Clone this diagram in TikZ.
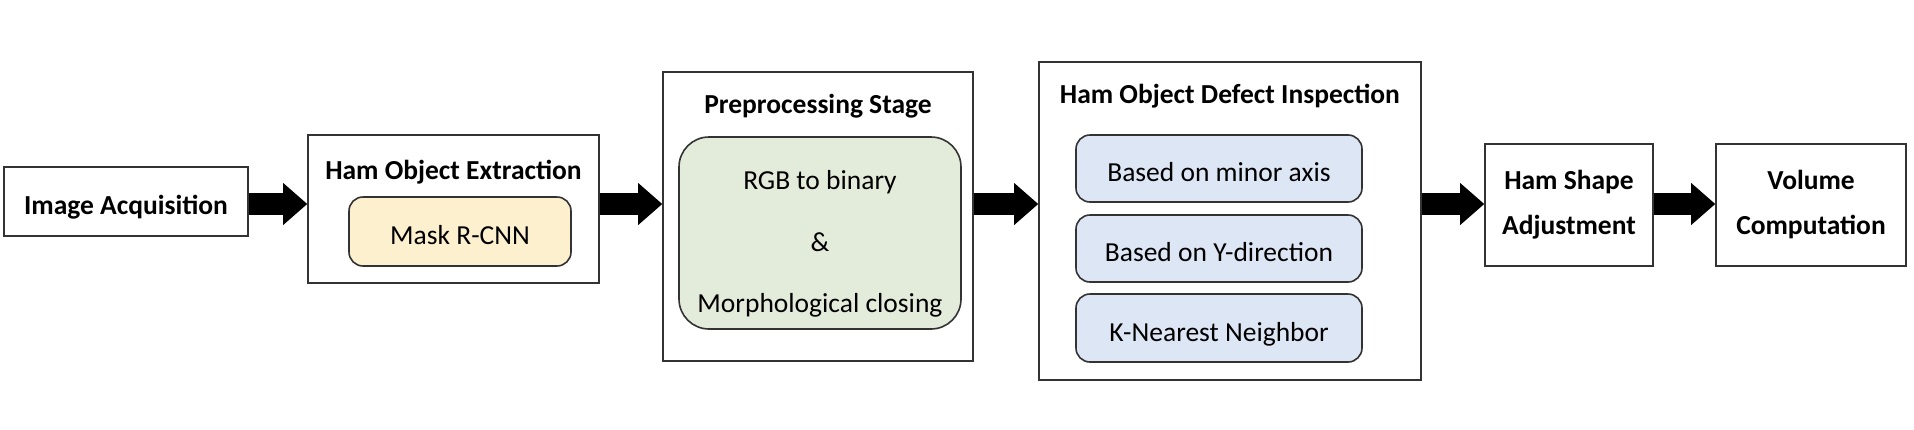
\documentclass[tikz,border=0pt]{standalone}
\usepackage{fontspec}
\setmainfont{Carlito}
\usetikzlibrary{arrows.meta}
\definecolor{maskfill}{HTML}{FDF0CF}
\definecolor{prepfill}{HTML}{E3EBDA}
\definecolor{inspfill}{HTML}{DDE6F4}
\begin{document}
\begin{tikzpicture}[x=1pt, y=-1pt, line width=1.6pt,
    font=\fontsize{27.5}{45}\selectfont,
    box/.style = {draw=black!80, inner sep=0pt},
    one/.style = {text height=32pt, text depth=6pt},
    head/.style = {one, font=\fontsize{27.5}{45}\selectfont\bfseries},
    inner/.style = {box, one, rounded corners=14pt},
    flow/.style = {line width=22pt, -{Triangle[length=24pt, width=42pt, line width=0pt]}}]
    \useasboundingbox (0,0) rectangle (1914,429);

    % simple steps
    \node[box, head, minimum width=244, minimum height=69] (acq) at (126,201.5) {Image Acquisition};
    \node[box, align=center, font=\fontsize{27.5}{45}\selectfont\bfseries, minimum width=168, minimum height=122] (shape) at (1569,205) {Ham Shape\\Adjustment};
    \node[box, align=center, font=\fontsize{27.5}{45}\selectfont\bfseries, minimum width=190, minimum height=122] (vol) at (1811,205) {Volume\\Computation};

    % stage containers
    \node[box, minimum width=291, minimum height=148] (extr) at (453.5,209) {};
    \node[box, minimum width=310, minimum height=289] (prep) at (818,216.5) {};
    \node[box, minimum width=382, minimum height=318] (insp) at (1230,221) {};

    \node[head] (extrT) at (453.5,166) {Ham Object Extraction};
    \node[head] (prepT) at (818,100) {Preprocessing Stage};
    \node[head] (inspT) at (1230,90) {Ham Object Defect Inspection};

    % inner methods
    \node[inner, fill=maskfill, minimum width=222, minimum height=69] (mask) at (460,231.5) {Mask R-CNN};
    \node[box, fill=prepfill, rounded corners=30pt, minimum width=282, minimum height=192] (bin) at (820,233) {};
    \node[align=center] (binT) at (820,244) {RGB to binary\\[16.5pt]\&\\[16.5pt]Morphological closing};
    \node[inner, fill=inspfill, minimum width=286, minimum height=67] (minor) at (1219,168.5) {Based on minor axis};
    \node[inner, fill=inspfill, minimum width=286, minimum height=67] (ydir) at (1219,248.5) {Based on Y-direction};
    \node[inner, fill=inspfill, minimum width=286, minimum height=68] (knn) at (1219,328) {K-Nearest Neighbor};

    % block arrows
    \coordinate (line) at (0,204);
    \draw[flow] (acq.east |- line) -- (extr.west |- line);
    \draw[flow] (extr.east |- line) -- (prep.west |- line);
    \draw[flow] (prep.east |- line) -- (insp.west |- line);
    \draw[flow] (insp.east |- line) -- (shape.west |- line);
    \draw[flow] (shape.east |- line) -- (vol.west |- line);
\end{tikzpicture}
\end{document}
